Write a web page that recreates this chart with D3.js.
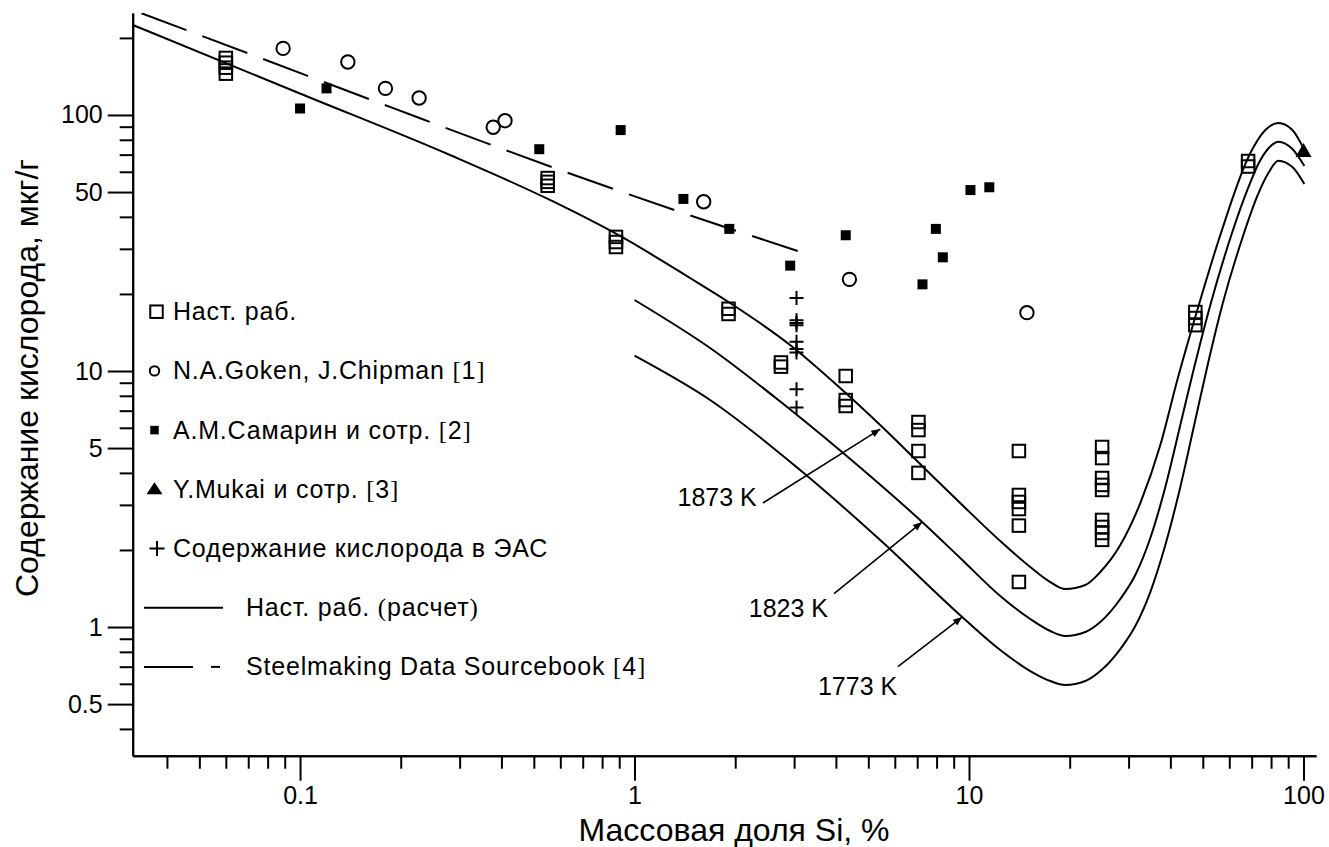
<!DOCTYPE html>
<html>
<head>
<meta charset="utf-8">
<script src="https://cdn.jsdelivr.net/npm/d3@7"></script>
<style>
  body { margin: 0; background: #fff; }
  text { font-family: "Liberation Sans", Arial, sans-serif; fill: #000; }
</style>
</head>
<body>
<svg id="chart" width="1329" height="847"></svg>
<script>
// Data: [mass % Si, oxygen µg/g]
const presentWork = [
  [0.06, 167], [0.06, 160], [0.06, 153], [0.06, 145],
  [0.55, 56.7], [0.55, 54.8], [0.55, 52.9],
  [0.88, 33.4], [0.88, 31.9], [0.88, 30.5],
  [1.91, 17.5], [1.91, 16.7],
  [2.74, 10.8], [2.74, 10.4],
  [4.28, 9.56], [4.28, 7.7], [4.28, 7.3],
  [7.06, 6.32], [7.06, 5.88], [7.06, 4.87], [7.06, 4.0],
  [14.1, 4.87], [14.1, 3.28], [14.1, 3.08], [14.1, 2.89], [14.1, 2.49], [14.1, 1.5],
  [25, 5.05], [25, 4.57], [25, 3.82], [25, 3.59], [25, 3.43], [25, 2.62], [25, 2.46], [25, 2.33], [25, 2.19],
  [47.5, 17.0], [47.5, 16.1], [47.5, 15.1],
  [68.3, 66.1], [68.3, 62.9]
];
const goken = [[0.089, 182], [0.139, 161], [0.18, 127], [0.227, 116.5], [0.378, 89.5], [0.41, 95], [1.61, 45.8], [4.39, 22.8], [14.9, 16.9]];
const samarin = [[0.1, 106], [0.12, 127], [0.519, 73.5], [0.909, 87.3], [1.4, 47], [1.92, 35.9], [2.92, 25.8], [4.28, 33.9], [7.26, 21.8], [7.96, 35.9], [8.35, 27.8], [10.1, 50.9], [11.5, 52.2]];
const mukai = [[100, 73]];
const eas = [[3.05, 19.3], [3.05, 15.8], [3.05, 15.4], [3.05, 15.1], [3.05, 13.0], [3.05, 12.2], [3.05, 11.8], [3.05, 8.48], [3.05, 7.21]];

// Calculated curves (Наст. раб., расчет)
const calc1873 = [[0.03162, 224.7], [0.0999, 121.3], [0.2806, 69.78], [0.5587, 46.56], [0.905, 33.68], [1.4659, 23.08], [1.9305, 18.44], [2.9184, 12.64], [4.1197, 8.582], [5.4255, 6.152], [7.145, 4.333], [9.4109, 3.051], [12.399, 2.167], [15.243, 1.716], [17.497, 1.499], [19.402, 1.407], [22.269, 1.459], [24.69, 1.64], [28.339, 2.091], [32.523, 3.051], [37.328, 5.139], [41.958, 9.223], [48.157, 17.31], [56.412, 33.98], [69.373, 71.05], [76.914, 87.38], [84.127, 93.07], [92.655, 87.38], [100.62, 72.99]];
const calc1823 = [[1.0, 18.94], [1.6823, 12.3], [2.8588, 7.235], [4.8262, 4.105], [7.2446, 2.572], [9.4109, 1.861], [12.399, 1.3217], [15.243, 1.0746], [17.497, 0.9647], [19.402, 0.9222], [22.269, 0.956], [24.69, 1.046], [28.339, 1.2866], [31.42, 1.596], [34.84, 2.2264], [38.635, 3.5237], [42.834, 6.152], [46.517, 9.647], [52.666, 18.11], [61.28, 34.91], [67.96, 50.94], [73.8, 65.53], [78.52, 73.98], [84.127, 78.65], [92.655, 73.65], [100.62, 63.21]];
const calc1773 = [[1.0, 11.477], [1.6823, 7.703], [3.1264, 4.105], [5.4255, 2.1867], [9.5414, 1.0941], [12.399, 0.8132], [15.243, 0.6732], [17.497, 0.6153], [19.402, 0.5936], [22.269, 0.6153], [24.69, 0.6732], [28.339, 0.8205], [31.42, 1.009], [34.84, 1.37], [38.635, 2.091], [42.834, 3.5237], [47.49, 6.435], [51.94, 10.84], [57.19, 18.11], [66.12, 33.98], [72.79, 48.27], [78.52, 59.35], [84.127, 66.31], [92.655, 62.65], [100.62, 53.77]];
// Steelmaking Data Sourcebook
const sourcebook = [[0.03357, 249.7], [0.07076, 173.1], [0.18565, 107.5], [0.59853, 60.98], [1.3967, 41.42], [3.3497, 28.39]];

// Curve annotations: label, label anchor (end, baseline), arrow start, arrow tip
const tempLabels = ["1873 K", "1823 K", "1773 K"];
const tempLabelPos = [[2.32, 2.97], [3.79, 1.094], [6.10, 0.543]];
const arrowFrom = [[2.42, 3.05], [3.95, 1.35], [6.13, 0.70]];
const arrowTo = [[5.43, 5.93], [7.24, 2.57], [9.54, 1.094]];

const xTickLabels = [0.1, 1, 10, 100];
const yTickLabels = [0.5, 1, 5, 10, 50, 100];
const legendLabels = [
  "Наст. раб.",
  "N.A.Goken, J.Chipman [1]",
  "А.М.Самарин и сотр. [2]",
  "Y.Mukai и сотр. [3]",
  "Содержание кислорода в ЭАС",
  "Наст. раб. (расчет)",
  "Steelmaking Data Sourcebook [4]"
];

const svg = d3.select("#chart");

const x = d3.scaleLog().domain([0.0316, 109]).range([132.7, 1316]);
const y = d3.scaleLog().domain([0.3144, 250.2]).range([755.7, 13]);

// minor ticks at 2..9 of each decade
const minorX = [];
for (let d = -2; d <= 2; d++) for (let m = 2; m <= 9; m++) {
  const v = m * Math.pow(10, d);
  if (v >= x.domain()[0] && v <= x.domain()[1]) minorX.push(v);
}
const minorY = [];
for (let d = -1; d <= 2; d++) for (let m = 2; m <= 9; m++) {
  const v = m * Math.pow(10, d);
  if (v >= y.domain()[0] && v <= y.domain()[1] && !yTickLabels.includes(v)) minorY.push(v);
}

function styleAxis(g) {
  g.attr("font-size", null).attr("font-family", null);
  g.selectAll("line").attr("stroke-width", 2);
  g.selectAll("path").attr("stroke-width", 2);
  g.selectAll("text").style("font-size", "25px");
}

// X axis
svg.append("g")
  .attr("transform", `translate(0,${y.range()[0]})`)
  .call(d3.axisBottom(x).tickValues(minorX).tickSize(13).tickSizeOuter(0).tickFormat(""))
  .call(styleAxis);
svg.append("g")
  .attr("transform", `translate(0,${y.range()[0]})`)
  .call(d3.axisBottom(x).tickValues(xTickLabels).tickSize(25).tickSizeOuter(0).tickPadding(6).tickFormat(d => String(d)))
  .call(styleAxis);

// Y axis
svg.append("g")
  .attr("transform", `translate(${x.range()[0]},0)`)
  .call(d3.axisLeft(y).tickValues(minorY).tickSize(13).tickSizeOuter(0).tickFormat(""))
  .call(styleAxis);
svg.append("g")
  .attr("transform", `translate(${x.range()[0]},0)`)
  .call(d3.axisLeft(y).tickValues(yTickLabels).tickSize(25).tickSizeOuter(0).tickPadding(5).tickFormat(d => String(d)))
  .call(styleAxis);

// Axis titles
svg.append("text")
  .attr("x", 734).attr("y", 841)
  .attr("text-anchor", "middle")
  .style("font-size", "32px")
  .text("Массовая доля Si, %");
svg.append("text")
  .attr("transform", "translate(38,378) rotate(-90)")
  .attr("text-anchor", "middle")
  .style("font-size", "32px")
  .text("Содержание кислорода, мкг/г");

// Clip + arrow marker
const defs = svg.append("defs");
defs.append("clipPath").attr("id", "plot-clip")
  .append("rect")
  .attr("x", x.range()[0]).attr("y", y.range()[1])
  .attr("width", x.range()[1] - x.range()[0])
  .attr("height", y.range()[0] - y.range()[1]);

defs.append("marker")
  .attr("id", "arrow")
  .attr("viewBox", "0 0 10 10")
  .attr("refX", 10).attr("refY", 5)
  .attr("markerWidth", 15).attr("markerHeight", 9)
  .attr("markerUnits", "userSpaceOnUse")
  .attr("orient", "auto")
  .append("path").attr("d", "M0,1 L10,5 L0,9 Z").attr("fill", "#000");

const plot = svg.append("g").attr("clip-path", "url(#plot-clip)");

const line = d3.line()
  .x(d => x(d[0]))
  .y(d => y(d[1]))
  .curve(d3.curveMonotoneX);

[calc1873, calc1823, calc1773].forEach(c => {
  plot.append("path").datum(c)
    .attr("d", line)
    .attr("fill", "none").attr("stroke", "#000").attr("stroke-width", 2);
});
plot.append("path").datum(sourcebook)
  .attr("d", line)
  .attr("fill", "none").attr("stroke", "#000").attr("stroke-width", 2)
  .attr("stroke-dasharray", "48,17");

// Markers
function openSquare(g, cx, cy, s) {
  g.append("rect").attr("x", cx - s / 2).attr("y", cy - s / 2).attr("width", s).attr("height", s)
    .attr("fill", "none").attr("stroke", "#000").attr("stroke-width", 2);
}
function openCircle(g, cx, cy, r) {
  g.append("circle").attr("cx", cx).attr("cy", cy).attr("r", r)
    .attr("fill", "none").attr("stroke", "#000").attr("stroke-width", 2);
}
function filledSquare(g, cx, cy, s) {
  g.append("rect").attr("x", cx - s / 2).attr("y", cy - s / 2).attr("width", s).attr("height", s)
    .attr("fill", "#000");
}
function triangle(g, cx, cy, w, h) {
  g.append("path").attr("d", `M${cx - w / 2},${cy + h / 2} L${cx + w / 2},${cy + h / 2} L${cx},${cy - h / 2} Z`)
    .attr("fill", "#000");
}
function plus(g, cx, cy, s) {
  g.append("path").attr("d", `M${cx - s / 2},${cy} H${cx + s / 2} M${cx},${cy - s / 2} V${cy + s / 2}`)
    .attr("stroke", "#000").attr("stroke-width", 2).attr("fill", "none");
}

const pts = svg.append("g");
presentWork.forEach(d => openSquare(pts, x(d[0]), y(d[1]), 12.5));
goken.forEach(d => openCircle(pts, x(d[0]), y(d[1]), 6.7));
samarin.forEach(d => filledSquare(pts, x(d[0]), y(d[1]), 10));
eas.forEach(d => plus(pts, x(d[0]), y(d[1]), 14));
mukai.forEach(d => triangle(pts, x(d[0]), y(d[1]), 16, 14));

// Annotations
const ann = svg.append("g");
tempLabels.forEach((t, i) => {
  ann.append("line")
    .attr("x1", x(arrowFrom[i][0])).attr("y1", y(arrowFrom[i][1]))
    .attr("x2", x(arrowTo[i][0])).attr("y2", y(arrowTo[i][1]))
    .attr("stroke", "#000").attr("stroke-width", 1.6)
    .attr("marker-end", "url(#arrow)");
  ann.append("text")
    .attr("x", x(tempLabelPos[i][0])).attr("y", y(tempLabelPos[i][1]))
    .attr("text-anchor", "end")
    .style("font-size", "25px")
    .text(t);
});

// Legend
function legendText(g, tx, ty, label) {
  const t = g.append("text").attr("x", tx).attr("y", ty)
    .style("font-size", "25px").style("letter-spacing", "0.8px");
  label.split(/([\[\]\(\)])/).filter(s => s.length).forEach(part => {
    const ts = t.append("tspan").text(part);
    if (/^[\[\]\(\)]$/.test(part)) ts.style("font-family", "'Liberation Serif', 'Times New Roman', serif");
  });
}
const legend = svg.append("g");
const legendTop = 311.7, legendStep = 59.2;
legendLabels.forEach((label, i) => {
  const cy = legendTop + i * legendStep;
  if (i === 0) openSquare(legend, 156.5, cy, 12.5);
  if (i === 1) openCircle(legend, 154.5, cy, 4.7);
  if (i === 2) filledSquare(legend, 154.5, cy, 8.5);
  if (i === 3) triangle(legend, 154.5, cy - 1, 16, 12);
  if (i === 4) plus(legend, 157, cy, 15);
  if (i === 5) {
    legend.append("line").attr("x1", 144).attr("x2", 223).attr("y1", cy).attr("y2", cy)
      .attr("stroke", "#000").attr("stroke-width", 2);
  }
  if (i === 6) {
    legend.append("line").attr("x1", 144).attr("x2", 193).attr("y1", cy).attr("y2", cy)
      .attr("stroke", "#000").attr("stroke-width", 2);
    legend.append("line").attr("x1", 211).attr("x2", 220).attr("y1", cy).attr("y2", cy)
      .attr("stroke", "#000").attr("stroke-width", 2);
  }
  legendText(legend, i >= 5 ? 246 : 173, cy + 8.5, label);
});
</script>
</body>
</html>
